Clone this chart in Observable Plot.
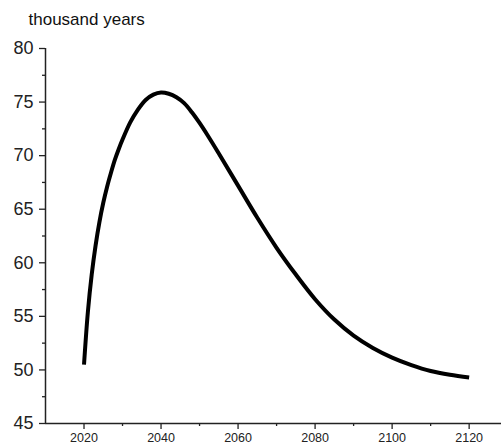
<!DOCTYPE html>
<html>
<head>
<meta charset="utf-8">
<script src="https://cdn.jsdelivr.net/npm/d3@7"></script>
<script src="https://cdn.jsdelivr.net/npm/@observablehq/plot@0.6"></script>
<style>
  html, body { margin: 0; padding: 0; background: #fff; }
  #chart svg { display: block; }
</style>
</head>
<body>
<div id="chart"></div>
<script>
// Projected values (thousand years) by year
const years = [2020, 2021, 2022, 2023, 2024, 2025, 2026, 2027, 2028, 2029, 2030,
  2032, 2034, 2036, 2038, 2040, 2042, 2044, 2046, 2048, 2050,
  2052, 2055, 2060, 2065, 2070, 2075, 2080, 2085, 2090, 2095, 2100,
  2105, 2110, 2115, 2120];
const values = [50.5, 55.4, 58.9, 61.6, 63.8, 65.6, 67.1, 68.4, 69.6, 70.6, 71.5,
  73.1, 74.3, 75.2, 75.7, 75.9, 75.78, 75.45, 74.9, 74.05, 73.05,
  71.95, 70.2, 67.2, 64.2, 61.4, 58.9, 56.6, 54.7, 53.2, 52.05, 51.15,
  50.45, 49.9, 49.55, 49.3];

const xMajor = [2020, 2040, 2060, 2080, 2100, 2120];
const xMinor = [2030, 2050, 2070, 2090, 2110];
const yMajor = [45, 50, 55, 60, 65, 70, 75, 80];
const yMinor = [47.5, 52.5, 57.5, 62.5, 67.5, 72.5, 77.5];
const unitLabel = "thousand years";

const series = years.map((year, i) => ({year, value: values[i]}));
const axisColor = "#222";

const chart = Plot.plot({
  width: 501,
  height: 446,
  marginLeft: 45,
  marginRight: 0,
  marginTop: 48,
  marginBottom: 23,
  style: {fontFamily: "'Liberation Sans', Arial, sans-serif", background: "#fff", color: axisColor},
  x: {domain: [2010, 2128.4], axis: null},
  y: {domain: [45, 80], axis: null},
  marks: [
    // axis lines
    Plot.ruleY([45], {stroke: axisColor, strokeWidth: 1.5}),
    Plot.ruleX([2010], {stroke: axisColor, strokeWidth: 1.5}),
    // x axis ticks and labels
    Plot.axisX({ticks: xMajor, tickSize: 6, tickPadding: 4, fontSize: 12.5,
      tickFormat: d => String(d), stroke: axisColor, strokeWidth: 1.3, label: null}),
    Plot.axisX({ticks: xMinor, tickSize: 3, text: null, stroke: axisColor, strokeWidth: 1.3, label: null}),
    // y axis ticks and labels
    Plot.axisY({ticks: yMajor, tickSize: 6, tickPadding: 6, fontSize: 18,
      tickFormat: d => String(d), stroke: axisColor, strokeWidth: 1.3, label: null}),
    Plot.axisY({ticks: yMinor, tickSize: 3, text: null, stroke: axisColor, strokeWidth: 1.3, label: null}),
    // unit label above the y axis
    Plot.text([unitLabel], {frameAnchor: "top-left", dx: -17, dy: -24, lineAnchor: "bottom",
      textAnchor: "start", fontSize: 17, fill: "#111"}),
    // the curve
    Plot.line(series, {x: "year", y: "value", stroke: "#000", strokeWidth: 4,
      curve: "catmull-rom", strokeLinecap: "butt", strokeLinejoin: "round"})
  ]
});

document.getElementById("chart").appendChild(chart);
</script>
</body>
</html>
